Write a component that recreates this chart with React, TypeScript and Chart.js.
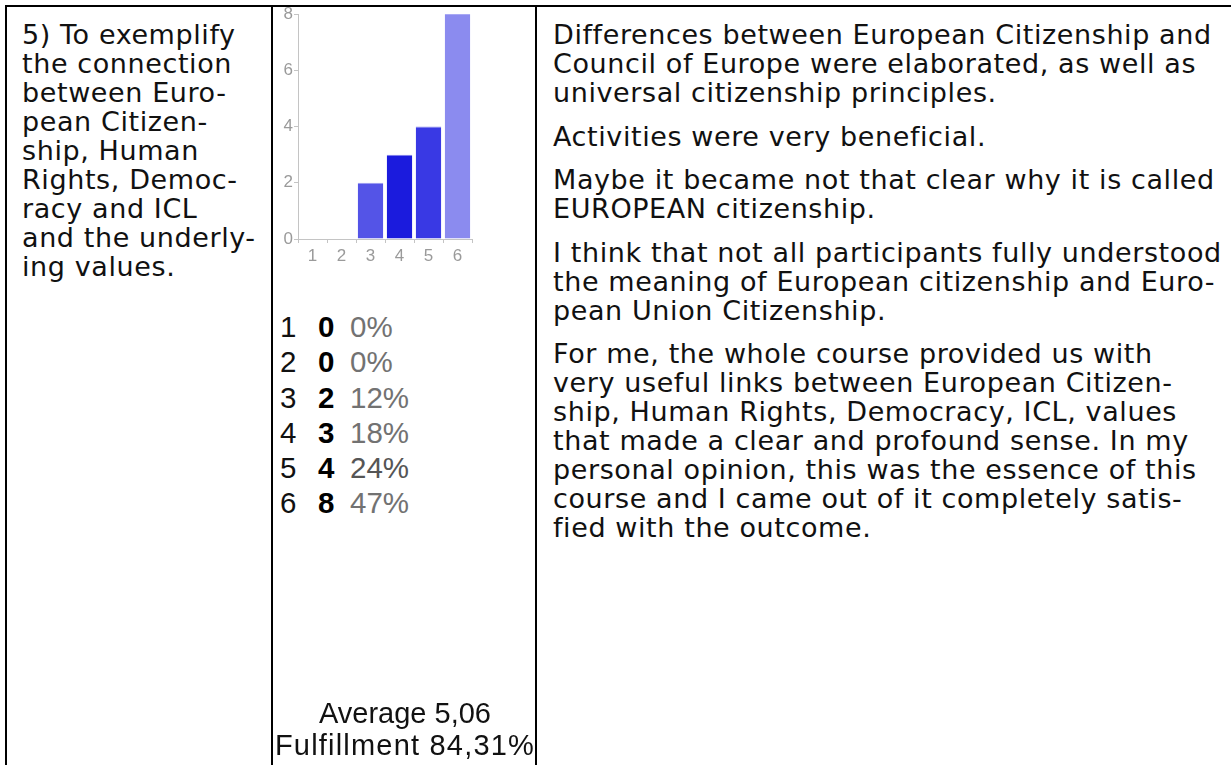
import React, { useEffect, useRef } from "react";
import { Chart, registerables } from "chart.js";

Chart.register(...registerables);

// ---- data ----
const categories = ["1", "2", "3", "4", "5", "6"];
const counts = [0, 0, 2, 3, 4, 8];
const percents = ["0%", "0%", "12%", "18%", "24%", "47%"];
const barColors = ["#5454e7", "#5454e7", "#5454e7", "#1b1bdd", "#3939e4", "#8b8bef"];
const barEdgeColors = ["#9a9af2", "#9a9af2", "#9a9af2", "#8080ec", "#8c8cef", "#a9a9f4"];
const yMax = 8;
const yStep = 2;
const averageText = "Average 5,06";
const fulfillmentText = "Fulfillment 84,31%";

const questionLines = [
  "5) To exemplify",
  "the connection",
  "between Euro-",
  "pean Citizen-",
  "ship, Human",
  "Rights, Democ-",
  "racy and ICL",
  "and the underly-",
  "ing values.",
];

const comment1 = [
  "Differences between European Citizenship and",
  "Council of Europe were elaborated, as well as",
  "universal citizenship principles.",
];
const comment2 = ["Activities were very beneficial."];
const comment3 = [
  "Maybe it became not that clear why it is called",
  "EUROPEAN citizenship.",
];
const comment4 = [
  "I think that not all participants fully understood",
  "the meaning of European citizenship and Euro-",
  "pean Union Citizenship.",
];
const comment5 = [
  "For me, the whole course provided us with",
  "very useful links between European Citizen-",
  "ship, Human Rights, Democracy, ICL, values",
  "that made a clear and profound sense. In my",
  "personal opinion, this was the essence of this",
  "course and I came out of it completely satis-",
  "fied with the outcome.",
];
const comments = [comment1, comment2, comment3, comment4, comment5];

const TEXT_FONT = '"DejaVu Sans", Verdana, sans-serif';
const ARIAL = '"Liberation Sans", Arial, sans-serif';
const TICK_FONT = "'Liberation Sans Narrow', Arial, sans-serif";

Chart.defaults.font.family = TICK_FONT;
Chart.defaults.font.size = 17;
Chart.defaults.color = "#9a9a9a";

function BarChart() {
  const ref = useRef<HTMLCanvasElement | null>(null);
  useEffect(() => {
    if (!ref.current) return;
    const chart = new Chart(ref.current, {
      type: "bar",
      data: {
        labels: categories,
        datasets: [
          {
            data: counts,
            backgroundColor: barColors,
            borderColor: barEdgeColors,
            borderWidth: { top: 1, left: 0, right: 0, bottom: 0 },
            borderSkipped: false,
            barPercentage: 0.88,
            categoryPercentage: 1,
          },
        ],
      },
      options: {
        animation: false,
        responsive: false,
        devicePixelRatio: 1,
        layout: { padding: { top: 14, right: 4, left: 0, bottom: 0 } },
        plugins: { legend: { display: false }, tooltip: { enabled: false } },
        scales: {
          x: {
            afterFit: (s: any) => {
              s.height = 31;
            },
            grid: { drawOnChartArea: false, drawTicks: true, tickLength: 4, color: "#c4c4c4" },
            border: { display: true, color: "#c4c4c4" },
            ticks: { color: "#9a9a9a", padding: 3, font: { family: TICK_FONT, size: 17 } },
          },
          y: {
            min: 0,
            max: yMax,
            afterFit: (s: any) => {
              s.width = 22;
            },
            grid: { drawOnChartArea: false, drawTicks: true, tickLength: 4, color: "#c4c4c4" },
            border: { display: true, color: "#c4c4c4" },
            ticks: { stepSize: yStep, color: "#9a9a9a", padding: 1, font: { family: TICK_FONT, size: 17 } },
          },
        },
      },
    });
    return () => chart.destroy();
  }, []);
  return (
    <canvas
      ref={ref}
      width={200}
      height={270}
      style={{ position: "absolute", left: 276, top: 0, width: 200, height: 270 }}
    />
  );
}

export default function App() {
  const line = (s: string, i: number) => (
    <div key={i} style={{ whiteSpace: "nowrap" }}>
      {s}
    </div>
  );
  return (
    <div
      style={{
        position: "absolute",
        left: 0,
        top: 0,
        width: 1231,
        height: 765,
        overflow: "hidden",
        background: "#ffffff",
      }}
    >
      <BarChart />
      {/* borders */}
      <div style={{ position: "absolute", left: 5, top: 5, width: 1240, height: 2, background: "#000" }} />
      <div style={{ position: "absolute", left: 5, top: 5, width: 2, height: 770, background: "#000" }} />
      <div style={{ position: "absolute", left: 271, top: 5, width: 2, height: 770, background: "#000" }} />
      <div style={{ position: "absolute", left: 535, top: 5, width: 2, height: 770, background: "#000" }} />

      {/* left column */}
      <div
        style={{
          position: "absolute",
          left: 22,
          top: 20,
          fontFamily: TEXT_FONT,
          fontSize: 27,
          letterSpacing: "0.6px",
          lineHeight: "29px",
          color: "#111",
        }}
      >
        {questionLines.map(line)}
      </div>

      {/* middle stats */}
      <div style={{ position: "absolute", left: 0, top: 309, fontFamily: ARIAL, fontSize: 29.5, lineHeight: "35.3px" }}>
        {categories.map((c, i) => (
          <div key={c} style={{ position: "relative", height: 35.3 }}>
            <span style={{ position: "absolute", left: 280, color: "#111" }}>{c}</span>
            <span style={{ position: "absolute", left: 318, color: "#000", fontWeight: "bold" }}>{counts[i]}</span>
            <span style={{ position: "absolute", left: 350, color: i === 4 ? "#555" : "#727272" }}>{percents[i]}</span>
          </div>
        ))}
      </div>
      <div
        style={{
          position: "absolute",
          left: 273,
          width: 264,
          top: 697,
          textAlign: "center",
          fontFamily: ARIAL,
          fontSize: 29,
          lineHeight: "32px",
          color: "#111",
          whiteSpace: "nowrap",
        }}
      >
        <div>{averageText}</div>
        <div style={{ letterSpacing: "1.2px" }}>{fulfillmentText}</div>
      </div>

      {/* right column */}
      <div
        style={{
          position: "absolute",
          left: 553,
          top: 20,
          fontFamily: TEXT_FONT,
          fontSize: 27,
          letterSpacing: "0.6px",
          lineHeight: "29px",
          color: "#111",
        }}
      >
        {comments.map((p, i) => (
          <div key={i} style={{ marginBottom: 14.5 }}>
            {p.map(line)}
          </div>
        ))}
      </div>
    </div>
  );
}
